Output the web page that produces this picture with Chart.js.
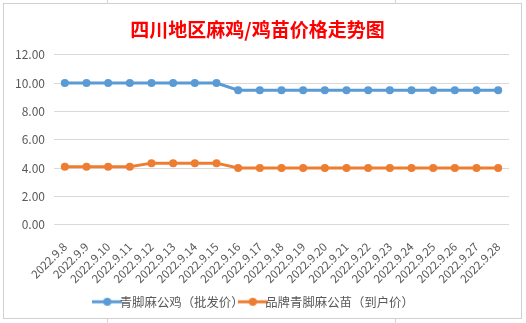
<!DOCTYPE html>
<html><head><meta charset="utf-8">
<script src="https://cdn.jsdelivr.net/npm/chart.js@4"></script>
<style>
html,body{margin:0;padding:0;background:#fff;width:526px;height:323px;overflow:hidden;}
#bg{position:absolute;left:0;top:0;width:526px;height:323px;
background-image:linear-gradient(#d4d4d4,#d4d4d4),linear-gradient(#d4d4d4,#d4d4d4);
background-size:1px 323px,1px 323px;background-position:107px 0,395px 0;background-repeat:no-repeat;}
#frame{position:absolute;left:3px;top:3px;width:517px;height:314px;border:1px solid #d0d0d0;background:#fff;}
canvas{display:block;}
</style></head>
<body><div id="bg"></div><div id="frame"><canvas id="c" width="517" height="314"></canvas></div>
<script>
const categories = ["2022.9.8","2022.9.9","2022.9.10","2022.9.11","2022.9.12","2022.9.13","2022.9.14","2022.9.15","2022.9.16","2022.9.17","2022.9.18","2022.9.19","2022.9.20","2022.9.21","2022.9.22","2022.9.23","2022.9.24","2022.9.25","2022.9.26","2022.9.27","2022.9.28"];
const wholesale = [10,10,10,10,10,10,10,10,9.5,9.5,9.5,9.5,9.5,9.5,9.5,9.5,9.5,9.5,9.5,9.5,9.5];
const chick = [4.1,4.1,4.1,4.1,4.35,4.35,4.35,4.35,4,4,4,4,4,4,4,4,4,4,4,4,4];
const seriesNames = ["青脚麻公鸡（批发价）","品牌青脚麻公苗（到户价）"];
const titleText = "四川地区麻鸡/鸡苗价格走势图";
const yTicks = {min:0,max:12,step:2};

function legendIcon(color){
  const cv=document.createElement('canvas');cv.width=30;cv.height=10;
  const g=cv.getContext('2d');
  g.strokeStyle=color;g.lineWidth=3;g.beginPath();g.moveTo(0,5);g.lineTo(30,5);g.stroke();
  g.fillStyle=color;g.beginPath();g.arc(15,5,4,0,Math.PI*2);g.fill();
  return cv;
}
const colors=["#5b9bd5","#ed7d31"];
const icons=colors.map(legendIcon);
const font="'Noto Sans CJK SC','Microsoft YaHei',sans-serif";

new Chart(document.getElementById('c'),{
  type:'line',
  data:{labels:categories,datasets:[
    {label:seriesNames[0],data:wholesale,borderColor:colors[0],backgroundColor:colors[0],borderWidth:3,pointRadius:4,pointHoverRadius:4,pointBackgroundColor:colors[0],pointBorderWidth:0,tension:0},
    {label:seriesNames[1],data:chick,borderColor:colors[1],backgroundColor:colors[1],borderWidth:3,pointRadius:4,pointHoverRadius:4,pointBackgroundColor:colors[1],pointBorderWidth:0,tension:0}
  ]},
  options:{
    responsive:false,animation:false,
    layout:{padding:{left:2,right:12,top:0,bottom:0}},
    plugins:{
      title:{display:true,text:titleText,color:'#ff0000',font:{family:font,size:19,weight:'bold'},padding:{top:14,bottom:14}},
      legend:{position:'bottom',labels:{color:'#595959',font:{family:font,size:12.4},usePointStyle:true,boxWidth:30,boxHeight:10,padding:3,
        generateLabels:(chart)=>chart.data.datasets.map((d,i)=>({text:d.label,fillStyle:colors[i],strokeStyle:colors[i],pointStyle:icons[i],datasetIndex:i,fontColor:'#595959',lineWidth:0,hidden:false}))}},
      tooltip:{enabled:false}
    },
    scales:{
      x:{offset:true,grid:{display:false},border:{display:false},
        ticks:{color:'#595959',font:{family:font,size:11.5},minRotation:45,maxRotation:45,autoSkip:false,padding:7}},
      y:{min:yTicks.min,max:yTicks.max,grid:{color:'#d9d9d9',drawTicks:false,lineWidth:1},border:{display:false},
        ticks:{stepSize:yTicks.step,color:'#595959',font:{family:font,size:12},padding:9,callback:v=>v.toFixed(2)}}
    }
  }
});
</script></body></html>
